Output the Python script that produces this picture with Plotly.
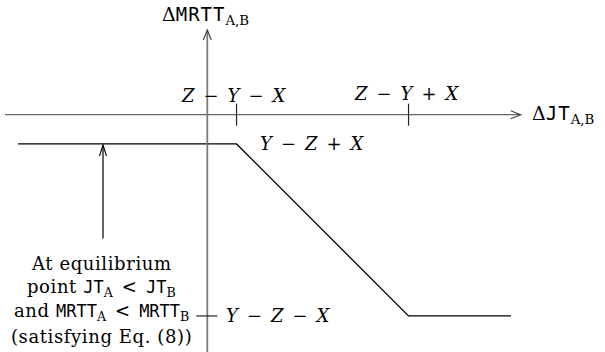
import plotly.graph_objects as go

# Piecewise response of the MRTT difference to the JT difference
Z_MINUS_Y = 1.34          # Z - Y
X_HALF = 1.0              # X
x_breaks = [Z_MINUS_Y - X_HALF, Z_MINUS_Y + X_HALF]          # Z-Y-X, Z-Y+X
y_levels = [-(Z_MINUS_Y - X_HALF), -(Z_MINUS_Y + X_HALF)]    # Y-Z+X, Y-Z-X
x_left, x_right = -2.2, 3.53

curve_x = [x_left, x_breaks[0], x_breaks[1], x_right]
curve_y = [y_levels[0], y_levels[0], y_levels[1], y_levels[1]]

SP = "\u2002"  # wider space around binary operators
x_tick_labels = [f"<i>Z</i>{SP}−{SP}<i>Y</i>{SP}−{SP}<i>X</i>",
                 f"<i>Z</i>{SP}−{SP}<i>Y</i>{SP}+{SP}<i>X</i>"]
y_tick_labels = [f"<i>Y</i>{SP}−{SP}<i>Z</i>{SP}+{SP}<i>X</i>",
                 f"<i>Y</i>{SP}−{SP}<i>Z</i>{SP}−{SP}<i>X</i>"]

W, H = 605, 352
SCALE = 86.0              # pixels per unit
ORIGIN = (207.3, 114.7)   # pixel position of the origin
xr = [-ORIGIN[0] / SCALE, (W - ORIGIN[0]) / SCALE]
yr = [-(H - ORIGIN[1]) / SCALE, ORIGIN[1] / SCALE]

SERIF = "DejaVu Serif"
MONO = "DejaVu Sans Mono"
FS = 18
AXIS_GRAY = "#7a7a7a"


def ypix(p):
    """Data y for a given pixel row."""
    return (ORIGIN[1] - p) / SCALE


def xpix(p):
    return (p - ORIGIN[0]) / SCALE


def tt(s, size=17, ls=0):
    extra = f";letter-spacing:{ls}px" if ls else ""
    return f"<span style=\"font-family:'{MONO}';font-size:{size}px{extra}\">{s}</span>"


def spaced(s, ls=0.6):
    return f"<span style=\"letter-spacing:{ls}px\">{s}</span>"


fig = go.Figure()

# response curve
fig.add_trace(go.Scatter(x=curve_x, y=curve_y, mode="lines",
                         line=dict(color="black", width=1.3),
                         hoverinfo="skip", showlegend=False))

shapes = []
px = 1.0 / SCALE
# axes
shapes.append(dict(type="line", x0=xpix(5), x1=xpix(520.7), y0=0, y1=0,
                   line=dict(color="#666666", width=1.3)))
shapes.append(dict(type="line", x0=0, x1=0, y0=yr[0], y1=ypix(30),
                   line=dict(color=AXIS_GRAY, width=1.8)))
# ticks on the horizontal axis
for xb in x_breaks:
    shapes.append(dict(type="line", x0=xb, x1=xb, y0=-11 * px, y1=11 * px,
                       line=dict(color="#222222", width=1.2)))
# tick on the vertical axis at the lower level
shapes.append(dict(type="line", x0=-11 * px, x1=10 * px, y0=y_levels[1], y1=y_levels[1],
                   line=dict(color="#222222", width=1.2)))


# open arrowheads (pixel-sized chevrons anchored at the axis tips)
def chevron(xa, ya, direction, color="#444444"):
    if direction == "right":
        path = "M -10,-4 L 0,0 L -10,4"
    else:
        path = "M -4,-10 L 0,0 L 4,-10"
    return dict(type="path", xsizemode="pixel", ysizemode="pixel",
                xanchor=xa, yanchor=ya, path=path,
                line=dict(color=color, width=1.2))


shapes.append(chevron(xpix(520.7), 0, "right"))
shapes.append(chevron(0, ypix(30), "up"))

ann = []
# axis titles
ann.append(dict(x=xpix(530), y=0, xanchor="left", yanchor="middle",
                font=dict(family=SERIF, size=19, color="black"),
                text="Δ" + tt("JT", 19, 1) + "<sub>A,B</sub>"))
ann.append(dict(x=xpix(205.5), y=ypix(15), xanchor="center", yanchor="middle",
                font=dict(family=SERIF, size=19, color="black"),
                text="Δ" + tt("MRTT", 19, 1) + "<sub>A,B</sub>"))
# tick labels
ann.append(dict(x=xpix(234), y=ypix(95), xanchor="center",
                yanchor="middle", text=x_tick_labels[0]))
ann.append(dict(x=xpix(407), y=ypix(93), xanchor="center",
                yanchor="middle", text=x_tick_labels[1]))
ann.append(dict(x=xpix(258), y=y_levels[0], xanchor="left",
                yanchor="middle", text=y_tick_labels[0]))
ann.append(dict(x=xpix(224), y=y_levels[1], xanchor="left",
                yanchor="middle", text=y_tick_labels[1]))

# pointer to the equilibrium segment
arrow_x = xpix(103)
tip_y = ypix(145)
ann.append(dict(x=arrow_x, y=tip_y, ax=arrow_x, ay=ypix(240),
                axref="x", ayref="y", showarrow=True, arrowhead=0,
                arrowwidth=1.2, arrowcolor="black", text=""))
shapes.append(dict(type="path", xsizemode="pixel", ysizemode="pixel",
                   xanchor=arrow_x, yanchor=tip_y,
                   path="M -3.5,-11 L 0,0 L 3.5,-11",
                   line=dict(color="black", width=1.1)))

LT = f"{SP}&lt;{SP}"
note_lines = [
    spaced("At equilibrium"),
    spaced("point ") + tt("JT") + "<sub>A</sub>" + LT + tt("JT") + "<sub>B</sub>",
    spaced("and ") + tt("MRTT") + "<sub>A</sub>" + LT + tt("MRTT") + "<sub>B</sub>",
    spaced("(satisfying Eq. (8))"),
]
note_rows = [263, 288, 312, 336]
for line, row in zip(note_lines, note_rows):
    ann.append(dict(x=xpix(101), y=ypix(row), xanchor="center",
                    yanchor="middle", text=line))

for a in ann:
    a.setdefault("showarrow", False)
    a.setdefault("font", dict(family=SERIF, size=FS, color="black"))

fig.update_layout(
    width=W, height=H,
    margin=dict(l=0, r=0, t=0, b=0),
    paper_bgcolor="white", plot_bgcolor="white",
    xaxis=dict(range=xr, visible=False, fixedrange=True),
    yaxis=dict(range=yr, visible=False, fixedrange=True),
    shapes=shapes, annotations=ann,
    showlegend=False,
)

fig.write_html("out.html", config={"displayModeBar": False})
